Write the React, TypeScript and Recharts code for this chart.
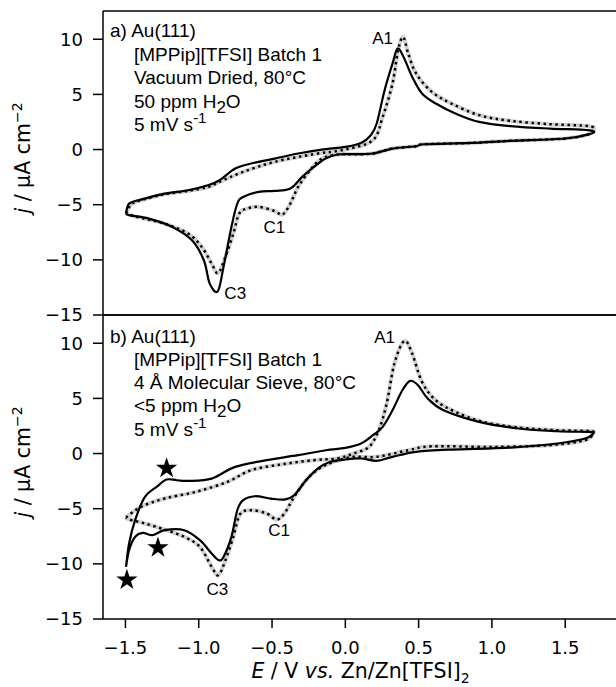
import React from 'react';
import { ComposedChart, Line, Scatter, XAxis, YAxis, ZAxis, ReferenceDot } from 'recharts';

type Pt = [number, number];

const E_TICKS = [-1.5, -1, -0.5, 0, 0.5, 1, 1.5];
const J_TICKS = [-15, -10, -5, 0, 5, 10];
const E_DOMAIN = [-1.653, 1.86];
const J_DOMAIN = [-15, 12.56];

// panel a) vacuum dried, 50 ppm H2O
const vacSolid: Pt[] = [
  [-1.496, -5.81], [-1.475, -4.9], [-1.394, -4.54], [-1.233, -4.0], [-1.072, -3.69], [-0.938, -3.24],
  [-0.858, -2.78], [-0.751, -1.72], [-0.643, -1.27], [-0.483, -0.82], [-0.322, -0.36], [-0.161, 0],
  [0, 0.24], [0.107, 0.6], [0.174, 1.3], [0.214, 2.36], [0.268, 5.38], [0.322, 7.8], [0.357, 9.15],
  [0.402, 8.26], [0.456, 6.59], [0.523, 5.08], [0.617, 4.17], [0.751, 3.27], [0.912, 2.51], [1.126, 2.12],
  [1.394, 1.9], [1.609, 1.81], [1.695, 1.65],
  [1.662, 1.39], [1.501, 1.0], [1.126, 0.79], [0.858, 0.6], [0.536, 0.48], [0.483, 0.3], [0.322, 0.09],
  [0.188, -0.36], [0.054, -0.42], [-0.054, -0.45], [-0.134, -0.82], [-0.214, -1.57], [-0.295, -2.48],
  [-0.375, -3.54], [-0.483, -3.75], [-0.59, -3.84], [-0.697, -4.3], [-0.737, -4.9], [-0.777, -7.02],
  [-0.831, -10.65], [-0.87, -12.85], [-0.925, -12.16], [-0.965, -10.04], [-1.046, -8.23], [-1.18, -7.02],
  [-1.34, -6.26], [-1.475, -5.96], [-1.496, -5.81],
];
const vacDotted: Pt[] = [
  [-1.496, -5.81], [-1.46, -4.95], [-1.394, -4.6], [-1.233, -4.05], [-1.072, -3.75], [-0.938, -3.4],
  [-0.858, -2.93], [-0.697, -2.03], [-0.483, -1.12], [-0.214, -0.42], [0, 0], [0.188, 0.85], [0.255, 2.96],
  [0.322, 5.99], [0.36, 9.0], [0.395, 10.2], [0.429, 8.71], [0.483, 6.9], [0.59, 5.23], [0.724, 4.17],
  [0.912, 3.12], [1.126, 2.6], [1.394, 2.3], [1.662, 2.12], [1.695, 1.75],
  [1.662, 1.39], [1.501, 1.0], [1.126, 0.79], [0.858, 0.6], [0.536, 0.48], [0.483, 0.3], [0.322, 0.09],
  [0.188, -0.36], [0.054, -0.42], [-0.054, -0.45], [-0.16, -0.82], [-0.241, -1.88], [-0.322, -3.39],
  [-0.375, -4.9], [-0.429, -5.9], [-0.483, -5.57], [-0.59, -5.2], [-0.67, -5.35], [-0.724, -5.81],
  [-0.764, -7.62], [-0.818, -9.74], [-0.868, -11.2], [-0.912, -10.34], [-0.979, -8.83], [-1.072, -7.62],
  [-1.233, -6.72], [-1.421, -6.11], [-1.496, -5.81],
];

// panel b) molecular sieve, <5 ppm H2O
const sieveSolid: Pt[] = [
  [-1.496, -10.27], [-1.475, -8.16], [-1.434, -6.04], [-1.367, -3.93], [-1.287, -3.02], [-1.22, -2.36],
  [-1.15, -2.42], [-1.072, -2.48], [-0.912, -2.27], [-0.751, -1.21], [-0.536, -0.6], [-0.322, -0.15],
  [-0.134, 0.3], [0, 0.51], [0.107, 0.91], [0.188, 1.66], [0.255, 2.42], [0.322, 3.93], [0.389, 5.74],
  [0.442, 6.59], [0.496, 6.19], [0.563, 4.98], [0.67, 3.93], [0.912, 2.87], [1.18, 2.27], [1.448, 2.02],
  [1.662, 1.96], [1.694, 1.87],
  [1.635, 1.36], [1.448, 0.91], [1.126, 0.54], [0.724, 0.36], [0.483, 0.15], [0.322, -0.3], [0.214, -0.66],
  [0.107, -0.45], [0, -0.54], [-0.107, -0.76], [-0.188, -1.36], [-0.268, -2.42], [-0.349, -3.78],
  [-0.416, -4.17], [-0.509, -4.08], [-0.617, -3.87], [-0.697, -4.23], [-0.737, -5.14], [-0.777, -7.55],
  [-0.831, -9.37], [-0.863, -9.67], [-0.912, -9.06], [-0.992, -7.85], [-1.099, -6.95], [-1.233, -6.95],
  [-1.314, -7.4], [-1.381, -7.19], [-1.434, -7.55], [-1.475, -8.76], [-1.496, -10.27],
];
const sieveDotted: Pt[] = [
  [-1.496, -5.8], [-1.394, -4.83], [-1.233, -4.08], [-1.019, -3.47], [-0.804, -2.57], [-0.643, -1.51],
  [-0.429, -0.97], [-0.214, -0.6], [-0.054, -0.45], [0.054, 0], [0.161, 0.6], [0.228, 2.11], [0.282, 4.53],
  [0.335, 8.16], [0.402, 10.21], [0.456, 9.06], [0.523, 6.5], [0.617, 4.83], [0.751, 3.78], [0.938, 2.87],
  [1.18, 2.36], [1.448, 2.11], [1.662, 2.05], [1.69, 1.87],
  [1.635, 1.21], [1.394, 0.76], [0.992, 0.6], [0.59, 0.66], [0.429, 0.3], [0.214, -0.3], [0.054, -0.3],
  [-0.08, -0.76], [-0.188, -1.45], [-0.268, -2.42], [-0.349, -3.93], [-0.416, -5.44], [-0.469, -5.98],
  [-0.536, -5.44], [-0.643, -5.14], [-0.718, -5.5], [-0.764, -7.55], [-0.818, -9.67], [-0.866, -11.03],
  [-0.912, -10.27], [-0.992, -8.46], [-1.099, -7.55], [-1.233, -6.89], [-1.367, -6.34], [-1.475, -5.98],
  [-1.496, -5.8],
];
const sieveStars: Pt[] = [[-1.219, -1.34], [-1.278, -8.53], [-1.49, -11.46]];

const vacPeaks = [
  { name: 'A1', E: 0.254, j: 10.07 },
  { name: 'C1', E: -0.484, j: -7.02 },
  { name: 'C3', E: -0.751, j: -13.0 },
];
const sievePeaks = [
  { name: 'A1', E: 0.268, j: 10.58 },
  { name: 'C1', E: -0.451, j: -6.93 },
  { name: 'C3', E: -0.873, j: -12.3 },
];

const toRows = (pts: Pt[]) => pts.map(([E, j]) => ({ E, j }));
const minus = (s: string) => s.replace('-', '\u2212');

// smooth curve through the points (Catmull-Rom), works on loops unlike monotone
function smoothCurve(context: any) {
  let pts: number[][] = [];
  return {
    areaStart() {},
    areaEnd() {},
    lineStart() { pts = []; },
    point(x: number, y: number) { pts.push([+x, +y]); },
    lineEnd() {
      if (!pts.length) return;
      context.moveTo(pts[0][0], pts[0][1]);
      for (let i = 0; i < pts.length - 1; i++) {
        const p0 = pts[i - 1] || pts[i];
        const p1 = pts[i];
        const p2 = pts[i + 1];
        const p3 = pts[i + 2] || p2;
        context.bezierCurveTo(
          p1[0] + (p2[0] - p0[0]) / 6, p1[1] + (p2[1] - p0[1]) / 6,
          p2[0] - (p3[0] - p1[0]) / 6, p2[1] - (p3[1] - p1[1]) / 6,
          p2[0], p2[1],
        );
      }
    },
  };
}

const TICK_FONT = 'DejaVu Sans';
const NOTE_FONT = 'Liberation Sans, Arial, sans-serif';
const tickStyle = { fontSize: 18, fill: '#000', fontFamily: TICK_FONT };
const axisStroke = { stroke: '#000', strokeWidth: 1.5 };

function YLabel({ viewBox }: any) {
  const cy = (viewBox ? viewBox.y + viewBox.height / 2 : 160) - 5;
  const x = 30;
  return (
    <text x={x} y={cy} transform={`rotate(-90 ${x} ${cy})`} textAnchor="middle"
      fontFamily={TICK_FONT} fontSize={20.5} fill="#000">
      <tspan fontStyle="italic">j</tspan> / µA cm<tspan dy={-8} fontSize={14}>−2</tspan>
    </text>
  );
}

function XLabel({ viewBox }: any) {
  const cx = viewBox ? viewBox.x + viewBox.width / 2 : 360;
  const y = viewBox ? viewBox.y + 59 : 374;
  return (
    <text x={cx} y={y} textAnchor="middle" fontFamily={TICK_FONT} fontSize={20.5} fill="#000">
      <tspan fontStyle="italic">E</tspan> / V <tspan fontStyle="italic">vs.</tspan> Zn/Zn[TFSI]
      <tspan dy={5} fontSize={14}>2</tspan>
    </text>
  );
}

function PeakLabel({ viewBox, value }: any) {
  return (
    <text x={viewBox.cx ?? viewBox.x} y={(viewBox.cy ?? viewBox.y) + 6} textAnchor="middle"
      fontFamily={NOTE_FONT} fontSize={17} fill="#000">{value}</text>
  );
}

function Panel({ solid, dotted, peaks, stars, showX, height, margin }: any) {
  return (
    <ComposedChart width={640} height={height} margin={margin}>
      <XAxis dataKey="E" type="number" domain={E_DOMAIN} allowDataOverflow ticks={showX ? E_TICKS : []}
        tick={showX ? tickStyle : false} tickLine={showX ? axisStroke : false} tickSize={9} tickMargin={13}
        axisLine={axisStroke} height={showX ? 68 : 1} interval={0}
        tickFormatter={(v: number) => minus(v.toFixed(1))}
        label={showX ? <XLabel /> : undefined} />
      <XAxis xAxisId="frame" orientation="top" dataKey="E" type="number" domain={E_DOMAIN} allowDataOverflow
        ticks={[]} tick={false} tickLine={false} axisLine={axisStroke} height={1} />
      <YAxis dataKey="j" type="number" domain={J_DOMAIN} allowDataOverflow ticks={J_TICKS} interval={0}
        width={103} tick={tickStyle} tickLine={axisStroke} tickSize={10} tickMargin={10} axisLine={axisStroke}
        tickFormatter={(v: number) => minus(String(v))} label={<YLabel />} />
      <ZAxis range={[140, 140]} />
      <Line data={toRows(dotted)} dataKey="j" type={smoothCurve as any} stroke="#d0d0d0" strokeWidth={4}
        dot={false} isAnimationActive={false} strokeLinejoin="round" />
      <Line data={toRows(dotted)} dataKey="j" type={smoothCurve as any} stroke="#000" strokeWidth={2.5}
        strokeDasharray="2.4 3.6" dot={false} isAnimationActive={false} strokeLinejoin="round" />
      <Line data={toRows(solid)} dataKey="j" type={smoothCurve as any} stroke="#000" strokeWidth={2.2}
        dot={false} isAnimationActive={false} strokeLinejoin="round" />
      {stars && (
        <Scatter data={toRows(stars)} dataKey="j" shape="star" fill="#000" isAnimationActive={false} />
      )}
      {peaks.map((p: any) => (
        <ReferenceDot key={p.name} x={p.E} y={p.j} r={0} fill="none" stroke="none"
          label={<PeakLabel value={p.name} />} />
      ))}
    </ComposedChart>
  );
}

function Note({ tag, lines, water, top }: { tag: string; lines: string[]; water: string; top: number[] }) {
  const base = { fontFamily: NOTE_FONT, fontSize: 19, fill: '#000' };
  return (
    <g>
      <text x={110} y={top[0]} {...base}>{tag} Au(111)</text>
      <text x={134} y={top[1]} {...base}>{lines[0]}</text>
      <text x={134} y={top[2]} {...base}>{lines[1]}</text>
      <text x={134} y={top[3]} {...base}>
        {water} H<tspan dy={5} fontSize={17}>2</tspan><tspan dy={-5}>O</tspan>
      </text>
      <text x={134} y={top[4]} {...base}>
        5 mV s<tspan dy={-8} fontSize={15}>-1</tspan>
      </text>
    </g>
  );
}

export default function App() {
  return (
    <div style={{ position: 'absolute', left: 0, top: 0, width: 616, height: 687, overflow: 'hidden', background: '#fff' }}>
      <div style={{ position: 'absolute', left: 0, top: 0 }}>
        <Panel solid={vacSolid} dotted={vacDotted} peaks={vacPeaks} showX={false} height={340}
          margin={{ top: 10, right: 22, bottom: 24, left: 0 }} />
      </div>
      <div style={{ position: 'absolute', left: 0, top: 304 }}>
        <Panel solid={sieveSolid} dotted={sieveDotted} peaks={sievePeaks} stars={sieveStars} showX height={383}
          margin={{ top: 10, right: 22, bottom: 0, left: 0 }} />
      </div>
      <svg width={616} height={687} style={{ position: 'absolute', left: 0, top: 0, pointerEvents: 'none' }}>
        <Note tag="a)" lines={['[MPPip][TFSI] Batch 1', 'Vacuum Dried, 80°C']} water="50 ppm"
          top={[37, 60.5, 84, 107.5, 131]} />
        <Note tag="b)" lines={['[MPPip][TFSI] Batch 1', '4 Å Molecular Sieve, 80°C']} water="<5 ppm"
          top={[343, 366, 389, 412, 435.5]} />
      </svg>
    </div>
  );
}
